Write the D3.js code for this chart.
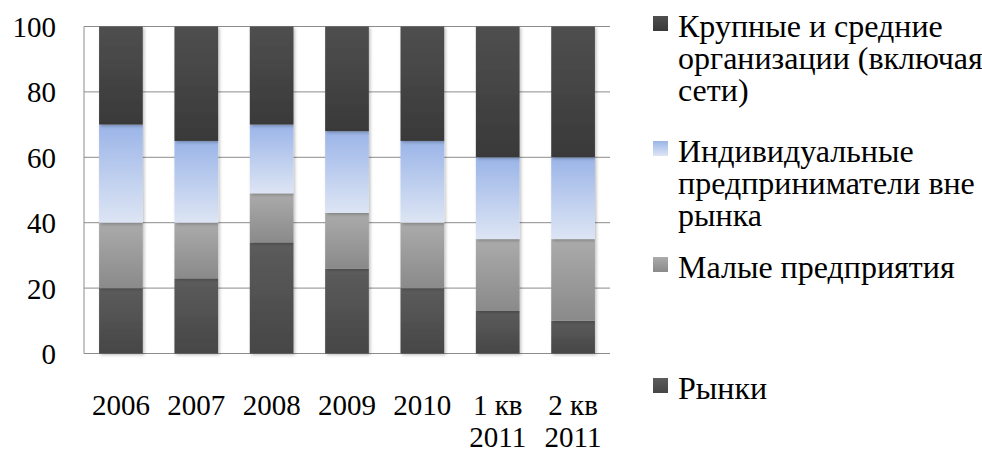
<!DOCTYPE html>
<html><head><meta charset="utf-8">
<script src="https://cdn.jsdelivr.net/npm/d3@7"></script>
<style>body{margin:0;background:#fff}svg{display:block}</style>
</head><body>
<script>
const categories = [["2006"],["2007"],["2008"],["2009"],["2010"],["1 кв","2011"],["2 кв","2011"]];
const seriesNames = ["Рынки","Малые предприятия","Индивидуальные предприниматели вне рынка","Крупные и средние организации (включая сети)"];
const rynki  = [20,23,34,26,20,13,10];
const malye  = [20,17,15,17,20,22,25];
const ip     = [30,25,21,25,25,25,25];
const krup   = [30,35,30,32,35,40,40];
const yTicks = [0,20,40,60,80,100];
const legendLines = [
  ["Крупные и средние","организации (включая","сети)"],
  ["Индивидуальные","предприниматели вне","рынка"],
  ["Малые предприятия"],
  ["Рынки"]
];
const gradStops = [["#5c5c5c","#464646"],["#ababab","#8a8a8a"],["#9bb5e8","#dde5f4"],["#4f4f4f","#393939"]];

(function(){
const FONT="'Liberation Serif'";
const W=982,H=453, pLeft=84, pRight=610, pTop=26.5, pBottom=353.5;
const svg=d3.select("body").append("svg").attr("width",W).attr("height",H);
const defs=svg.append("defs");
gradStops.forEach((g,i)=>{
  const lg=defs.append("linearGradient").attr("id","g"+i).attr("x1",0).attr("y1",0).attr("x2",0).attr("y2",1);
  lg.append("stop").attr("offset","0%").attr("stop-color",g[0]);
  lg.append("stop").attr("offset","100%").attr("stop-color",g[1]);
});
const f=defs.append("filter").attr("id","sh").attr("x","-20%").attr("y","-5%").attr("width","140%").attr("height","115%");
f.append("feDropShadow").attr("dx",1.5).attr("dy",1.5).attr("stdDeviation",1.5).attr("flood-color","#000").attr("flood-opacity",0.25);

const labels=categories.map(c=>c.join(" "));
const x=d3.scaleBand().domain(labels).range([pLeft,pRight]).paddingInner(0.42).paddingOuter(0.2);
const y=d3.scaleLinear().domain([0,100]).range([pBottom,pTop]);

svg.append("g").selectAll("line").data(yTicks).join("line")
  .attr("x1",pLeft).attr("x2",pRight).attr("y1",d=>y(d)).attr("y2",d=>y(d))
  .attr("stroke","#8c8c8c").attr("stroke-width",1);
svg.append("line").attr("x1",pLeft).attr("x2",pLeft).attr("y1",pTop).attr("y2",pBottom).attr("stroke","#8c8c8c");

svg.append("g").selectAll("text").data(yTicks).join("text")
  .attr("x",56).attr("y",d=>y(d)+10.5).attr("text-anchor","end")
  .attr("font-family",FONT).attr("font-size",29).attr("fill","#000").text(d=>d);

const data=[rynki,malye,ip,krup];
const table=labels.map((l,i)=>{const o={cat:l};seriesNames.forEach((s,k)=>o[s]=data[k][i]);return o;});
const stacked=d3.stack().keys(seriesNames)(table);
const gb=svg.append("g");
stacked.forEach((layer,k)=>{
  gb.append("g").selectAll("rect").data(layer).join("rect")
    .attr("x",d=>x(d.data.cat)).attr("width",x.bandwidth())
    .attr("y",d=>y(d[1])).attr("height",d=>y(d[0])-y(d[1]))
    .attr("fill","url(#g"+k+")").attr("filter","url(#sh)");
});

const xl=svg.append("g").selectAll("text").data(categories).join("text")
  .attr("text-anchor","middle").attr("font-size",29).attr("font-family",FONT).attr("fill","#000")
  .attr("x",(d,i)=>x(labels[i])+x.bandwidth()/2).attr("y",415);
xl.each(function(d){
  const t=d3.select(this), cx=t.attr("x");
  t.selectAll("tspan").data(d).join("tspan").attr("x",cx).attr("dy",(s,i)=>i?32:0).text(s=>s);
});

const legendOrder=[3,2,1,0];
const legendBase=[37,162,278,399];
const lg=svg.append("g");
legendOrder.forEach((k,i)=>{
  const g=lg.append("g");
  g.append("rect").attr("x",653).attr("y",legendBase[i]-21).attr("width",15).attr("height",15).attr("fill","url(#g"+k+")");
  const t=g.append("text").attr("x",678).attr("y",legendBase[i]).attr("font-size",32)
    .attr("font-family",FONT).attr("fill","#000");
  t.selectAll("tspan").data(legendLines[i]).join("tspan").attr("x",678).attr("dy",(d,j)=>j?32:0).text(d=>d);
});
})();
</script>
</body></html>
